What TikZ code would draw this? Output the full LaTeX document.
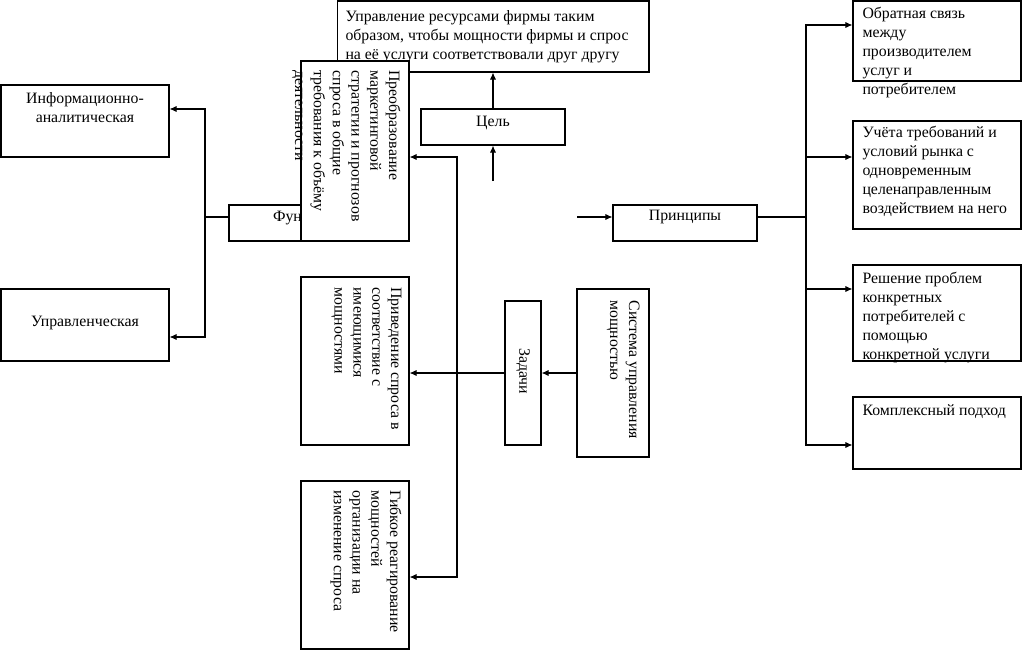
\documentclass[tikz,border=0pt]{standalone}
\usepackage{fontspec}
\setmainfont{Liberation Serif}
\usetikzlibrary{arrows.meta}

\tikzset{
  box/.style={draw, fill=white, inner sep=0pt},
  txt/.style={inner sep=0pt, align=left, font=\fontsize{9}{10.7}\selectfont},
  arr/.style={-{Latex[length=4pt,width=3.5pt]}}
}

\begin{document}
\begin{tikzpicture}[x=0.02cm, y=-0.02cm, line width=0.6pt]
  \useasboundingbox (0,0) rectangle (1022,650);

  % goal
  \node[box, minimum width=6.24cm, minimum height=1.42cm] (goal) at (493,36.5) {};
  \node[txt, anchor=north west] (goaltxt) at (345,10)
    {Управление ресурсами фирмы таким\\образом, чтобы мощности фирмы и спрос\\на её услуги соответствовали друг другу};
  \node[box, minimum width=2.88cm, minimum height=0.72cm] (cel) at (493,127) {};
  \node[txt, anchor=north] (celtxt) at (493,116) {Цель};

  % functions
  \node[box, minimum width=3.0cm, minimum height=0.72cm] (func) at (304,223) {};
  \node[txt, anchor=north] (functxt) at (304,211) {Функции};
  \node[box, minimum width=3.36cm, minimum height=1.44cm] (info) at (85,121) {};
  \node[txt, anchor=north, align=center] (infotxt) at (85,92) {Информационно-\\аналитическая};
  \node[box, minimum width=3.36cm, minimum height=1.44cm] (upr) at (85,325) {};
  \node[txt, anchor=north] (uprtxt) at (85,316) {Управленческая};

  % tasks
  \node[box, minimum width=2.16cm, minimum height=3.6cm] (rot1) at (355,151) {};
  \node[txt, rotate=-90, anchor=north west] (rot1txt) at (401,70)
    {Преобразование\\маркетинговой\\стратегии и прогнозов\\спроса в общие\\требования к объёму\\деятельности};
  \node[box, minimum width=2.16cm, minimum height=3.36cm] (rot2) at (355,361) {};
  \node[txt, rotate=-90, anchor=north west] (rot2txt) at (402,287)
    {Приведение спроса в\\соответствие с\\имеющимися\\мощностями};
  \node[box, minimum width=2.16cm, minimum height=3.36cm] (rot3) at (355,565) {};
  \node[txt, rotate=-90, anchor=north west] (rot3txt) at (402,490)
    {Гибкое реагирование\\мощностей\\организации на\\изменение спроса};
  \node[box, minimum width=0.72cm, minimum height=2.88cm] (zad) at (523,373) {};
  \node[txt, rotate=-90] (zadtxt) at (523,371) {Задачи};
  \node[box, minimum width=1.44cm, minimum height=3.36cm] (sys) at (613,373) {};
  \node[txt, rotate=-90, anchor=north west] (systxt) at (640,300)
    {Система управления\\мощностью};

  % principles
  \node[box, minimum width=2.88cm, minimum height=0.72cm] (princ) at (685,223) {};
  \node[txt, anchor=north] (princtxt) at (685,210) {Принципы};
  \node[box, minimum width=3.36cm, minimum height=1.6cm] (pa) at (937,41) {};
  \node[txt, anchor=north west] (patxt) at (862,7)
    {Обратная связь\\между\\производителем\\услуг и\\потребителем};
  \node[box, minimum width=3.36cm, minimum height=2.16cm] (pb) at (937,175) {};
  \node[txt, anchor=north west] (pbtxt) at (862,126)
    {Учёта требований и\\условий рынка с\\одновременным\\целенаправленным\\воздействием на него};
  \node[box, minimum width=3.36cm, minimum height=1.92cm] (pc) at (937,313) {};
  \node[txt, anchor=north west] (pctxt) at (862,272)
    {Решение проблем\\конкретных\\потребителей с\\помощью\\конкретной услуги};
  \node[box, minimum width=3.36cm, minimum height=1.44cm] (pd) at (937,433) {};
  \node[txt, anchor=north west] (pdtxt) at (862,404) {Комплексный подход};

  % connectors
  \coordinate (celin) at (493,181);
  \coordinate (prinin) at (577,217);
  \coordinate (lbus) at (205,217);
  \coordinate (rbus) at (806,217);
  \coordinate (mbus) at (457,373);
  \draw[arr] (cel.north) -- (goal.south);
  \draw[arr] (celin) -- (cel.south);
  \draw[arr] (prinin) -- (prinin -| princ.west);
  \draw (lbus -| func.west) -- (lbus);
  \draw[arr] (lbus) |- (info.east |- 0,109);
  \draw[arr] (lbus) |- (upr.east |- 0,337);
  \draw (lbus -| princ.east) -- (rbus);
  \draw[arr] (rbus) |- (pa.west |- 0,25);
  \draw[arr] (rbus) |- (pb.west |- 0,157);
  \draw[arr] (rbus) |- (pc.west |- 0,289);
  \draw[arr] (rbus) |- (pd.west |- 0,445);
  \draw[arr] (sys.west) -- (zad.east);
  \draw[arr] (zad.west) -- (zad.west -| rot2.east);
  \draw[arr] (mbus) |- (rot1.east |- 0,157);
  \draw[arr] (mbus) |- (rot3.east |- 0,577);
\end{tikzpicture}
\end{document}
